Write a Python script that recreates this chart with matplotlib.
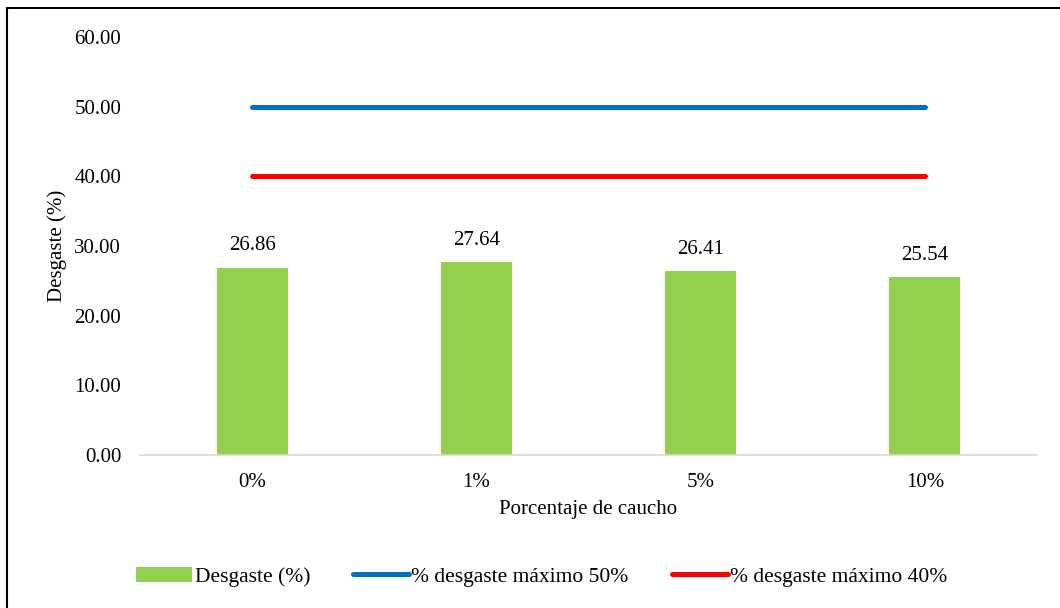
import matplotlib.pyplot as plt
from matplotlib.patches import Rectangle
import numpy as np

categories = ['0%', '1%', '5%', '10%']
desgaste = [26.86, 27.64, 26.41, 25.54]
max_50 = [50, 50, 50, 50]
max_40 = [40, 40, 40, 40]

plt.rcParams['font.family'] = ['Liberation Serif', 'DejaVu Serif']
plt.rcParams['font.size'] = 15

fig = plt.figure(figsize=(10.6, 6.08), dpi=100)
ax = fig.add_axes([0.1321, 0.2516, 0.8462, 0.6875])

x = np.arange(len(categories))
bars = ax.bar(x, desgaste, 0.316, color='#92D050', label='Desgaste (%)', zorder=2)
l50, = ax.plot(x, max_50, color='#0070C0', lw=3.6, solid_capstyle='round',
               label='% desgaste máximo 50%', zorder=3)
l40, = ax.plot(x, max_40, color='#FF0000', lw=3.6, solid_capstyle='round',
               label='% desgaste máximo 40%', zorder=3)

for xi, v in zip(x, desgaste):
    ax.annotate(f'{v:.2f}', (xi, v), xytext=(0, 9), textcoords='offset points',
                ha='center', va='bottom')

ax.set_xlim(-0.5, len(categories) - 0.5)
ax.set_ylim(0, 60)
ax.set_yticks(np.arange(0, 61, 10))
ax.set_yticklabels([f'{t:.2f}' for t in np.arange(0, 61, 10)])
ax.set_xticks(x)
ax.set_xticklabels(categories)
ax.tick_params(length=0)
ax.tick_params(axis='y', pad=13.5)
ax.tick_params(axis='x', pad=13)

for s in ['top', 'right', 'left']:
    ax.spines[s].set_visible(False)
ax.spines['bottom'].set_color('#D9D9D9')
ax.spines['bottom'].set_linewidth(1.2)

ax.set_xlabel('Porcentaje de caucho', labelpad=6)
ax.set_ylabel('Desgaste (%)', labelpad=5)

ax.legend([bars, l50, l40], [bars.get_label(), l50.get_label(), l40.get_label()],
          loc='center', bbox_to_anchor=(0.511, 0.051), bbox_transform=fig.transFigure,
          ncol=3, frameon=False, fontsize=15.5, handlelength=2.6, handletextpad=0.1,
          columnspacing=2.0)

fig.patches.append(Rectangle((7 / 1060, -0.1), 1.2, 0.1 + (608 - 8) / 608,
                             transform=fig.transFigure, fill=False,
                             edgecolor='black', lw=1.5))

fig.savefig('out.png', dpi=100)
